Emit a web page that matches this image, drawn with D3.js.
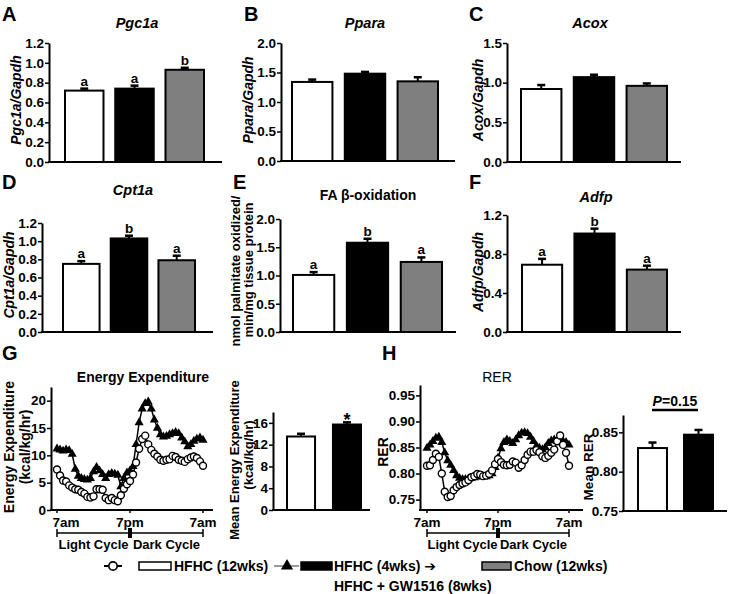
<!DOCTYPE html>
<html><head><meta charset="utf-8">
<script src="https://cdn.jsdelivr.net/npm/d3@7"></script>
<style>
body{margin:0;background:#fff;}
svg text{font-family:"Liberation Sans",Arial,sans-serif;font-weight:bold;fill:#000;}
</style></head><body>
<svg id="c" width="729" height="594"></svg>
<script>
// ---------- DATA ----------
const groups3 = ["HFHC (12wks)", "HFHC (4wks) → HFHC + GW1516 (8wks)", "Chow (12wks)"];
const groups2 = ["HFHC (12wks)", "HFHC (4wks) → HFHC + GW1516 (8wks)"];
const fills = ["#ffffff", "#000000", "#7f7f7f"];

const pgc1aMean = [0.72, 0.74, 0.93], pgc1aErr = [0.02, 0.03, 0.02], pgc1aSig = ["a", "a", "b"];
const pparaMean = [1.34, 1.48, 1.35], pparaErr = [0.04, 0.03, 0.07], pparaSig = ["", "", ""];
const acoxMean = [0.92, 1.07, 0.96], acoxErr = [0.05, 0.03, 0.03], acoxSig = ["", "", ""];
const cpt1aMean = [0.75, 1.03, 0.79], cpt1aErr = [0.03, 0.03, 0.05], cpt1aSig = ["a", "b", "a"];
const faoxMean = [1.01, 1.58, 1.24], faoxErr = [0.05, 0.07, 0.08], faoxSig = ["a", "b", "a"];
const adfpMean = [0.69, 1.01, 0.64], adfpErr = [0.06, 0.05, 0.04], adfpSig = ["a", "b", "a"];

const ticks12 = [0, 0.2, 0.4, 0.6, 0.8, 1.0, 1.2];
const ticks20 = [0, 0.5, 1.0, 1.5, 2.0];
const ticks15 = [0, 0.5, 1.0, 1.5];
const ticks12b = [0, 0.4, 0.8, 1.2];

// Energy expenditure, half-hourly from 7am to 7am (kcal/kg/hr)
const eeHFHC = [7.4, 6.3, 5.4, 5.2, 4.5, 4.1, 3.8, 3.7, 3.3, 3.0, 2.4, 2.3, 2.5, 3.8, 3.8, 3.7, 2.2, 1.8, 2.2, 1.8, 1.6,
  2.7, 3.9, 4.7, 5.3, 6.5, 8.7, 11.2, 13.0, 13.6, 12.0, 11.0, 10.3, 9.8, 9.2, 9.0, 9.2, 9.3, 9.9, 9.7, 9.2, 9.0, 8.8,
  9.3, 9.6, 9.8, 9.5, 8.9, 8.1];
const eeGW = [11.2, 11.0, 10.8, 11.0, 10.9, 10.2, 7.5, 6.2, 5.8, 5.6, 5.5, 5.8, 7.0, 7.8, 7.2, 6.5, 5.8, 6.5, 6.7, 6.6,
  6.4, 4.3, 5.8, 6.8, 7.2, 8.0, 12.0, 16.0, 18.5, 19.5, 19.8, 18.5, 16.5, 15.0, 13.8, 13.4, 13.5, 13.8, 14.0, 14.2,
  14.0, 13.2, 12.5, 11.6, 12.0, 12.6, 13.0, 13.2, 12.8];
const eeMean = [13.5, 15.7], eeErr = [0.5, 0.4], eeSig = ["", "*"];

// RER, half-hourly from 7am to 7am
const rerHFHC = [0.815, 0.816, 0.826, 0.838, 0.832, 0.800, 0.765, 0.755, 0.757, 0.768, 0.774, 0.778, 0.781, 0.783,
  0.787, 0.793, 0.795, 0.799, 0.798, 0.795, 0.796, 0.799, 0.806, 0.818, 0.828, 0.822, 0.817, 0.816, 0.817, 0.823,
  0.821, 0.811, 0.816, 0.826, 0.836, 0.842, 0.842, 0.845, 0.841, 0.833, 0.830, 0.834, 0.840, 0.846, 0.862, 0.873,
  0.855, 0.840, 0.815];
const rerGW = [0.849, 0.855, 0.862, 0.868, 0.870, 0.860, 0.840, 0.825, 0.816, 0.806, 0.796, 0.791, 0.789, 0.789,
  0.790, 0.791, 0.792, 0.794, 0.794, 0.794, 0.794, 0.796, 0.800, 0.812, 0.830, 0.848, 0.860, 0.865, 0.862, 0.858,
  0.865, 0.873, 0.878, 0.879, 0.877, 0.870, 0.862, 0.853, 0.849, 0.846, 0.850, 0.858, 0.863, 0.865, 0.862, 0.862,
  0.862, 0.860, 0.855];
const rerMean = [0.830, 0.847], rerErr = [0.007, 0.006], rerP = "=0.15";

const timeTicks = [0, 12, 24], timeLabels = ["7am", "7pm", "7am"];
const cycleLabels = ["Light Cycle", "Dark Cycle"];

// ---------- DRAW ----------
const svg = d3.select("#c");
const FF = '"Liberation Sans", Arial, sans-serif';

function txt(x, y, s, size, opts = {}) {
  const t = svg.append("text").attr("x", x).attr("y", y).text(s)
    .style("font-size", size + "px").attr("text-anchor", opts.anchor || "middle");
  if (opts.italic) t.style("font-style", "italic");
  if (opts.weight) t.style("font-weight", opts.weight);
  return t;
}
function vtxt(x, y, s, size, opts = {}) {
  const t = svg.append("text").attr("transform", `translate(${x},${y}) rotate(-90)`)
    .attr("dy", "0.35em").attr("text-anchor", "middle").text(s).style("font-size", size + "px");
  if (opts.italic) t.style("font-style", "italic");
  if (opts.weight) t.style("font-weight", opts.weight);
  return t;
}

function yAxis(scale, x, ticks, fmt) {
  const g = svg.append("g").attr("transform", `translate(${x},0)`)
    .call(d3.axisLeft(scale).tickValues(ticks).tickFormat(fmt).tickSize(4).tickSizeOuter(0).tickPadding(1));
  g.select(".domain").attr("stroke-width", 2);
  g.selectAll(".tick line").attr("stroke-width", 1.5);
  g.selectAll("text").style("font-size", "13.5px").style("font-family", FF).style("font-weight", "bold");
  return g;
}

function barPanel(c) {
  const y = d3.scaleLinear().domain(c.domain).range([c.yBot, c.yTop]);
  const x = d3.scaleBand().domain(c.groups).range([c.barL, c.barR]).paddingInner(c.pad);
  yAxis(y, c.axisX, c.ticks, c.fmt);
  svg.append("line").attr("x1", c.axisX - 1).attr("x2", c.axisRight).attr("y1", c.yBot).attr("y2", c.yBot)
    .attr("stroke", "#000").attr("stroke-width", 2);
  c.groups.forEach((g, i) => {
    const m = c.means[i], e = c.errs[i];
    const cx = x(g) + x.bandwidth() / 2;
    svg.append("line").attr("x1", cx).attr("x2", cx).attr("y1", y(m)).attr("y2", y(m + e))
      .attr("stroke", "#000").attr("stroke-width", 2);
    svg.append("line").attr("x1", cx - 4).attr("x2", cx + 4).attr("y1", y(m + e)).attr("y2", y(m + e))
      .attr("stroke", "#000").attr("stroke-width", 2.5);
    svg.append("rect").attr("x", x(g)).attr("y", y(m)).attr("width", x.bandwidth())
      .attr("height", y(c.domain[0]) - y(m)).attr("fill", fills[i]).attr("stroke", "#000").attr("stroke-width", 2);
    if (c.sig && c.sig[i]) {
      txt(cx, y(m + e) - (c.sigOff || 3), c.sig[i], c.sigSize || 13.5);
    }
  });
  return { x, y };
}

// Panel letters
[["A", 2, 21], ["B", 244, 21], ["C", 469, 21], ["D", 2, 189], ["E", 233, 189], ["F", 469, 189], ["G", 2, 360], ["H", 382, 360]]
  .forEach(([l, x, y]) => txt(x, y, l, 20, { anchor: "start" }));

const f1 = d3.format(".1f"), f2 = d3.format(".2f"), f0 = d3.format("d");

// A
txt(137, 28, "Pgc1a", 14.5, { italic: true });
vtxt(16, 100, "Pgc1a/Gapdh", 14, { italic: true });
barPanel({ groups: groups3, axisX: 49, axisRight: 222, yTop: 43, yBot: 162, barL: 65, barR: 204, pad: 0.234,
  domain: [0, 1.2], ticks: ticks12, fmt: f1, means: pgc1aMean, errs: pgc1aErr, sig: pgc1aSig });
// B
txt(365, 28, "Ppara", 14.5, { italic: true });
vtxt(248, 100, "Ppara/Gapdh", 14, { italic: true });
barPanel({ groups: groups3, axisX: 281, axisRight: 455, yTop: 43, yBot: 161, barL: 292, barR: 438, pad: 0.234,
  domain: [0, 2.0], ticks: ticks20, fmt: f1, means: pparaMean, errs: pparaErr, sig: pparaSig });
// C
txt(590, 28, "Acox", 14.5, { italic: true });
vtxt(478, 100, "Acox/Gapdh", 14, { italic: true });
barPanel({ groups: groups3, axisX: 507, axisRight: 681, yTop: 43, yBot: 162, barL: 521, barR: 667, pad: 0.234,
  domain: [0, 1.5], ticks: ticks15, fmt: f1, means: acoxMean, errs: acoxErr, sig: acoxSig });
// D
txt(133, 195, "Cpt1a", 14.5, { italic: true });
vtxt(9, 275, "Cpt1a/Gapdh", 14, { italic: true });
barPanel({ groups: groups3, axisX: 42, axisRight: 213, yTop: 223, yBot: 332, barL: 63, barR: 195, pad: 0.234,
  domain: [0, 1.2], ticks: ticks12, fmt: f1, means: cpt1aMean, errs: cpt1aErr, sig: cpt1aSig });
// E
txt(368, 200, "FA β-oxidation", 14);
vtxt(235, 271, "nmol palmitate oxidized/", 13);
vtxt(248, 270, "min/mg tissue protein", 13);
barPanel({ groups: groups3, axisX: 280, axisRight: 456, yTop: 219, yBot: 332, barL: 293, barR: 442, pad: 0.234,
  domain: [0, 2.0], ticks: ticks20, fmt: f1, means: faoxMean, errs: faoxErr, sig: faoxSig });
// F
txt(596, 202, "Adfp", 14.5, { italic: true });
vtxt(478, 272, "Adfp/Gapdh", 14, { italic: true });
barPanel({ groups: groups3, axisX: 507, axisRight: 681, yTop: 215, yBot: 332, barL: 522, barR: 667, pad: 0.234,
  domain: [0, 1.2], ticks: ticks12b, fmt: f1, means: adfpMean, errs: adfpErr, sig: adfpSig });

// Line panels
function linePanel(c) {
  const y = d3.scaleLinear().domain(c.domain).range([c.yBot, c.yTop]);
  const x = d3.scaleLinear().domain([0, 24]).range([c.x0, c.x1]);
  yAxis(y, c.axisX, c.ticks, c.fmt);
  svg.append("line").attr("x1", c.axisX - 1).attr("x2", c.axisRight).attr("y1", c.yBot).attr("y2", c.yBot)
    .attr("stroke", "#000").attr("stroke-width", 2);
  timeTicks.forEach((t, i) => {
    svg.append("line").attr("x1", x(t)).attr("x2", x(t)).attr("y1", c.yBot).attr("y2", c.yBot + 3)
      .attr("stroke", "#000").attr("stroke-width", 1.5);
    txt(x(t) + (i === 0 ? c.firstShift : 0), c.yBot + 17, timeLabels[i], 13.5);
  });
  const by = c.yBot + 23;
  svg.append("line").attr("x1", x(0)).attr("x2", x(24)).attr("y1", by).attr("y2", by).attr("stroke", "#000").attr("stroke-width", 1.5);
  [0, 24].forEach(t => svg.append("line").attr("x1", x(t)).attr("x2", x(t)).attr("y1", by - 4).attr("y2", by + 4)
    .attr("stroke", "#000").attr("stroke-width", 1.5));
  svg.append("rect").attr("x", x(12) - 2).attr("y", by - 5).attr("width", 4).attr("height", 10).attr("fill", "#000");
  txt((x(0) + x(12)) / 2, by + 16, cycleLabels[0], 13);
  txt((x(12) + x(24)) / 2, by + 16, cycleLabels[1], 13);
  const hr = (i, n) => i * 24 / (n - 1);
  const line = d3.line().x((d, i, a) => x(hr(i, a.length))).y(d => y(d));
  svg.append("path").datum(c.s2).attr("d", line).attr("fill", "none").attr("stroke", "#000").attr("stroke-width", 1.5);
  const tri = d3.symbol(d3.symbolTriangle).size(36);
  c.s2.forEach((v, i, a) => svg.append("path").attr("d", tri)
    .attr("transform", `translate(${x(hr(i, a.length))},${y(v)})`).attr("fill", "#000"));
  svg.append("path").datum(c.s1).attr("d", line).attr("fill", "none").attr("stroke", "#000").attr("stroke-width", 1.5);
  c.s1.forEach((v, i, a) => svg.append("circle").attr("cx", x(hr(i, a.length))).attr("cy", y(v)).attr("r", 3.5)
    .attr("fill", "#fff").attr("stroke", "#000").attr("stroke-width", 1.4));
}

// G
txt(143, 382, "Energy Expenditure", 14);
vtxt(9, 447, "Energy Expenditure", 14);
vtxt(25, 447, "(kcal/kg/hr)", 14);
linePanel({ axisX: 51, axisRight: 213, yTop: 387, yBot: 510, x0: 57, x1: 203, domain: [0, 22.5],
  ticks: [0, 5, 10, 15, 20], fmt: f0, firstShift: 9, s1: eeHFHC, s2: eeGW });
vtxt(234, 460, "Mean Energy Expenditure", 13);
vtxt(248, 455, "(kcal/kg/hr)", 13);
barPanel({ groups: groups2, axisX: 273, axisRight: 370, yTop: 412, yBot: 510, barL: 287, barR: 361, pad: 0.39,
  domain: [0, 18], ticks: [0, 4, 8, 12, 16], fmt: f0, means: eeMean, errs: eeErr, sig: eeSig, sigSize: 18, sigOff: -4 });

// H
txt(497, 382, "RER", 14, { weight: "normal" });
vtxt(383, 452, "RER", 14);
linePanel({ axisX: 420, axisRight: 583, yTop: 385, yBot: 510, x0: 427, x1: 569, domain: [0.73, 0.97],
  ticks: [0.75, 0.80, 0.85, 0.90, 0.95], fmt: f2, firstShift: 0, s1: rerHFHC, s2: rerGW });
vtxt(588, 467, "Mean RER", 13.5);
barPanel({ groups: groups2, axisX: 623, axisRight: 727, yTop: 415, yBot: 511, barL: 638, barR: 713, pad: 0.37,
  domain: [0.75, 0.872], ticks: [0.75, 0.80, 0.85], fmt: f2, means: rerMean, errs: rerErr, sig: null });
const pt = txt(675, 406, "", 14);
pt.append("tspan").style("font-style", "italic").text("P");
pt.append("tspan").text(rerP);
svg.append("line").attr("x1", 652).attr("x2", 698).attr("y1", 410).attr("y2", 410).attr("stroke", "#000").attr("stroke-width", 2.5);

// Legend
const ly = 566;
svg.append("line").attr("x1", 104).attr("x2", 122).attr("y1", ly).attr("y2", ly).attr("stroke", "#000").attr("stroke-width", 2);
svg.append("circle").attr("cx", 113).attr("cy", ly).attr("r", 4.2).attr("fill", "#fff").attr("stroke", "#000").attr("stroke-width", 1.7);
svg.append("line").attr("x1", 274).attr("x2", 299).attr("y1", ly).attr("y2", ly).attr("stroke", "#999").attr("stroke-width", 2);
svg.append("path").attr("d", d3.symbol(d3.symbolTriangle).size(64)).attr("transform", `translate(287,${ly})`).attr("fill", "#000");
const legRects = [[139, 171], [301, 332], [482, 511]];
legRects.forEach(([a, b], i) => svg.append("rect").attr("x", a).attr("y", ly - 4).attr("width", b - a).attr("height", 8)
  .attr("fill", fills[i]).attr("stroke", "#000").attr("stroke-width", 1.5));
txt(174, ly + 5, "HFHC (12wks)", 14, { anchor: "start" });
const l2 = txt(334, ly + 5, "HFHC (4wks) ", 14, { anchor: "start" });
l2.append("tspan").style("font-family", '"DejaVu Sans", sans-serif').style("font-size", "14px").text("➔");
txt(334, ly + 25, "HFHC + GW1516 (8wks)", 14, { anchor: "start" });
txt(514, ly + 5, "Chow (12wks)", 14, { anchor: "start" });
</script></body></html>
